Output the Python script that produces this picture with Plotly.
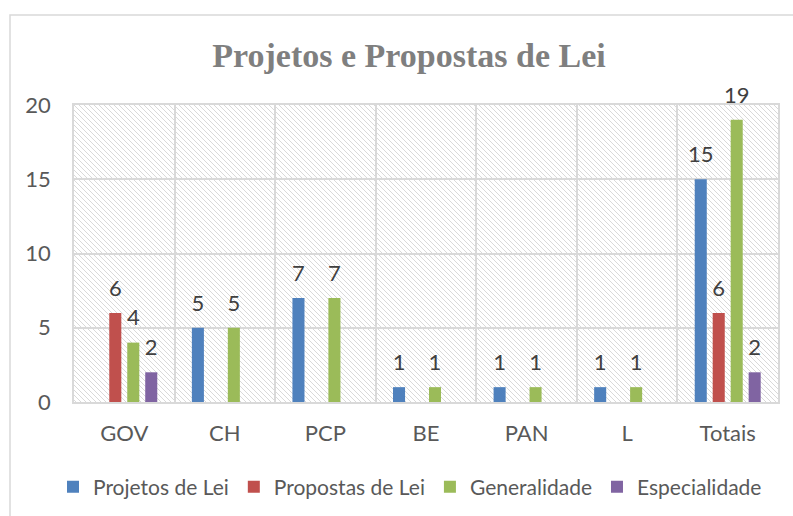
import base64
import plotly.graph_objects as go

categories = ["GOV", "CH", "PCP", "BE", "PAN", "L", "Totais"]
projetos = [None, 5, 7, 1, 1, 1, 15]
propostas = [6, None, None, None, None, None, 6]
generalidade = [4, 5, 7, 1, 1, 1, 19]
especialidade = [2, None, None, None, None, None, 2]

series = [
    ("Projetos de Lei", projetos, "#4F81BD"),
    ("Propostas de Lei", propostas, "#C0504D"),
    ("Generalidade", generalidade, "#9BBB59"),
    ("Especialidade", especialidade, "#8064A2"),
]

W, H = 793, 516
L, R, T, B = 74, 15, 105, 114
PW, PH = W - L - R, H - T - B

TXT = "#595959"
FONT = "Lato"
GAP = 0.285

fig = go.Figure()
for name, vals, color in series:
    fig.add_trace(go.Bar(
        name=name, x=categories, y=vals,
        marker=dict(color=color, line=dict(width=0)),
    ))
# data labels, grouped the same way as the bars
for name, vals, color in series:
    fig.add_trace(go.Scatter(
        x=categories, y=vals, mode="markers+text", showlegend=False,
        text=[("" if v is None else str(v)) for v in vals],
        textposition="top center", cliponaxis=False, hoverinfo="skip",
        marker=dict(size=17, color="rgba(0,0,0,0)"),
        textfont=dict(family=FONT, size=22, color="#404040"),
    ))

# hatched plot-area background
svg = (
    f'<svg xmlns="http://www.w3.org/2000/svg" width="{PW}" height="{PH}">'
    '<defs><pattern id="h" patternUnits="userSpaceOnUse" width="5" height="5">'
    '<path d="M-1,-1 L6,6 M-1,4 L1,6 M4,-1 L6,1" stroke="#d9d9d9" stroke-width="1"/>'
    '</pattern></defs>'
    f'<rect width="{PW}" height="{PH}" fill="white"/>'
    f'<rect width="{PW}" height="{PH}" fill="url(#h)"/></svg>'
)
src = "data:image/svg+xml;base64," + base64.b64encode(svg.encode()).decode()

fig.update_layout(
    width=W, height=H,
    margin=dict(l=L, r=R, t=T, b=B, autoexpand=False),
    paper_bgcolor="white", plot_bgcolor="rgba(0,0,0,0)",
    barmode="group", bargap=GAP, bargroupgap=0.33,
    scattermode="group", scattergap=GAP,
    title=dict(text="<b>Projetos e Propostas de Lei</b>",
               font=dict(family="Liberation Serif", size=34, color="#7F7F7F"),
               x=409 / W, xanchor="center", y=1 - 55 / H, yanchor="middle"),
    font=dict(family=FONT, size=22, color=TXT),
    showlegend=True,
    legend=dict(orientation="h", xref="paper", yref="paper",
                x=(53 - L) / PW, xanchor="left",
                y=(H - B - 487) / PH, yanchor="middle",
                font=dict(family=FONT, size=21, color=TXT),
                itemwidth=30, traceorder="normal", bgcolor="rgba(0,0,0,0)"),
    images=[dict(source=src, xref="paper", yref="paper", x=0, y=1,
                 sizex=1, sizey=1, sizing="stretch", xanchor="left",
                 yanchor="top", layer="below")],
    shapes=[dict(type="rect", xref="paper", yref="paper",
                 x0=(10 - L) / PW, x1=(830 - L) / PW,
                 y0=(H - B - 560) / PH, y1=(H - B - 15) / PH,
                 line=dict(color="#D9D9D9", width=1.5), fillcolor="rgba(0,0,0,0)",
                 layer="below")],
)
fig.update_yaxes(range=[0, 20], dtick=5, showgrid=True, gridcolor="#D9D9D9",
                 gridwidth=1.5, zeroline=False, showline=True, mirror=True,
                 linecolor="#D9D9D9", linewidth=1.5, automargin=False,
                 tickfont=dict(family=FONT, size=22, color=TXT),
                 ticklabelstandoff=17)
fig.update_xaxes(showgrid=True, gridcolor="#D9D9D9", gridwidth=1.5,
                 tickson="boundaries", ticks="", showline=True, mirror=True,
                 linecolor="#D9D9D9", linewidth=1.5, automargin=False,
                 tickfont=dict(family=FONT, size=22, color=TXT),
                 ticklabelstandoff=11)

fig.write_html("out.html", config={"displayModeBar": False},
               post_script="document.body.style.margin='0';document.body.style.overflow='hidden';")
